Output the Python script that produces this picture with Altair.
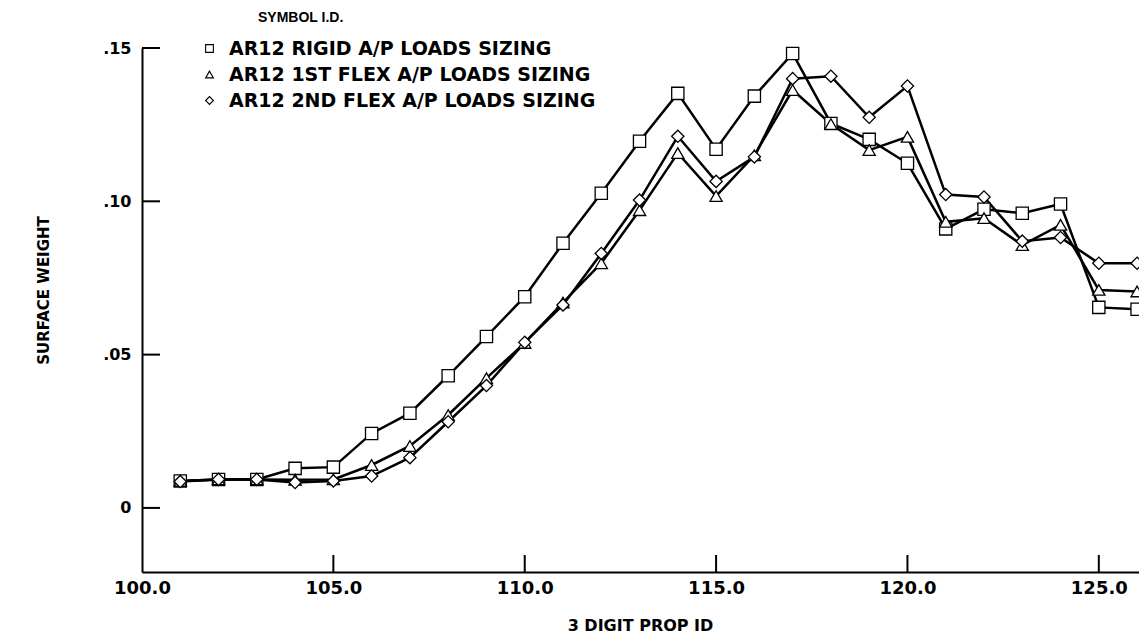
import altair as alt
import pandas as pd

# ---- data ----
prop_ids = list(range(101, 127))
rigid = [0.0088, 0.0093, 0.0093, 0.0129, 0.0133, 0.0243, 0.0309, 0.0431, 0.0559, 0.0689,
         0.0863, 0.1026, 0.1196, 0.1352, 0.1170, 0.1343, 0.1482, 0.1254, 0.1202, 0.1124,
         0.0910, 0.0974, 0.0961, 0.0991, 0.0654, 0.0648]
flex1 = [0.0088, 0.0093, 0.0093, 0.0092, 0.0093, 0.0140, 0.0202, 0.0303, 0.0423, 0.0538,
         0.0670, 0.0798, 0.0971, 0.1157, 0.1017, 0.1150, 0.1363, 0.1252, 0.1167, 0.1210,
         0.0933, 0.0945, 0.0857, 0.0923, 0.0711, 0.0706]
flex2 = [0.0086, 0.0093, 0.0093, 0.0083, 0.0088, 0.0104, 0.0164, 0.0281, 0.0399, 0.0540,
         0.0662, 0.0830, 0.1004, 0.1212, 0.1065, 0.1145, 0.1400, 0.1408, 0.1274, 0.1376,
         0.1022, 0.1014, 0.0870, 0.0882, 0.0798, 0.0798]
series_names = ["AR12 RIGID A/P LOADS SIZING",
                "AR12 1ST FLEX A/P LOADS SIZING",
                "AR12 2ND FLEX A/P LOADS SIZING"]
series_shapes = ["square", "triangle-up", "diamond"]
x_label_values = [100.0, 105.0, 110.0, 115.0, 120.0, 125.0]
x_inner_ticks = [105.0, 110.0, 115.0, 120.0, 125.0]
y_label_values = [0.0, 0.05, 0.10, 0.15]
legend_title = "SYMBOL I.D."
x_title = "3 DIGIT PROP ID"
y_title = "SURFACE WEIGHT"

rows = []
for name, vals in zip(series_names, [rigid, flex1, flex2]):
    for xv, yv in zip(prop_ids, vals):
        rows.append({"prop": xv, "weight": yv, "series": name})
df = pd.DataFrame(rows)
xt_df = pd.DataFrame({"prop": x_inner_ticks})
yt_df = pd.DataFrame({"weight": y_label_values})

W, H = 997, 524
X_MIN, X_MAX = 100.0, 126.05
Y_MIN, Y_MAX = -0.0209, 0.15
FONT = "DejaVu Sans"
FONT2 = "Liberation Sans"

xscale = alt.Scale(domain=[X_MIN, X_MAX], nice=False, zero=False)
yscale = alt.Scale(domain=[Y_MIN, Y_MAX], nice=False, zero=False)

xaxis = alt.Axis(values=x_label_values, format=".1f", ticks=False, grid=False,
                 domainColor="black", domainWidth=2, labelFlush=False,
                 labelFont=FONT, labelFontSize=18, labelFontWeight="bold",
                 labelColor="black", labelPadding=7,
                 title=x_title, titleFont=FONT, titleFontSize=16, titleFontWeight="bold",
                 titleColor="black", titleX=498, titleY=53, titleBaseline="middle",
                 titleAlign="center")
yaxis = alt.Axis(values=y_label_values,
                 labelExpr="datum.value == 0 ? '0' : slice(format(datum.value, '.2f'), 1)",
                 ticks=False, grid=False, domainColor="black", domainWidth=2,
                 labelFont=FONT, labelFontSize=16, labelFontWeight="bold", labelColor="black",
                 labelPadding=11, labelFlush=False,
                 title=y_title, titleFont=FONT, titleFontSize=15, titleFontWeight="bold",
                 titleColor="black", titleX=-99, titleY=242, titleAngle=270,
                 titleBaseline="middle", titleAlign="center")

X = alt.X("prop:Q", scale=xscale, axis=xaxis)
Y = alt.Y("weight:Q", scale=yscale, axis=yaxis)

x_tick_len = 18.0 / W * (X_MAX - X_MIN)
y_tick_len = 17.0 / H * (Y_MAX - Y_MIN)

xticks = alt.Chart(xt_df).mark_tick(color="black", orient="vertical", size=17,
                                    thickness=2, opacity=1).encode(
    x=X, y=alt.Y(datum=Y_MIN + y_tick_len / 2, scale=yscale, axis=yaxis))
yticks = alt.Chart(yt_df).mark_tick(color="black", orient="horizontal", size=18,
                                    thickness=2, opacity=1).encode(
    y=Y, x=alt.X(datum=X_MIN + x_tick_len / 2, scale=xscale, axis=xaxis))

lines = alt.Chart(df).mark_line(color="black", strokeWidth=2.5).encode(
    x=X, y=Y, detail="series:N")

points = alt.Chart(df).mark_point(size=150, strokeWidth=1.3).encode(
    x=X, y=Y,
    fill=alt.value("white"),
    stroke=alt.value("black"),
    fillOpacity=alt.value(1),
    opacity=alt.value(1),
    shape=alt.Shape("series:N",
                    scale=alt.Scale(domain=series_names, range=series_shapes),
                    legend=alt.Legend(title=None, orient="none", legendX=58, legendY=-9,
                                      labelFont=FONT, labelFontSize=19,
                                      labelFontWeight="bold", labelColor="black",
                                      symbolSize=60, symbolStrokeWidth=1.1,
                                      symbolOpacity=1,
                                      labelOffset=10, rowPadding=6, padding=0,
                                      labelLimit=700)),
)

chart = alt.layer(lines, points, xticks, yticks).properties(
    width=W, height=H,
    autosize=alt.AutoSizeParams(type="none"),
    padding={"left": 134, "top": 40, "right": 0, "bottom": 61},
    title=alt.TitleParams(legend_title, anchor="start", frame="group", dx=116,
                          offset=14, font=FONT2, fontSize=14, fontWeight="bold",
                          color="black"),
).configure(background="white").configure_view(stroke=None)

chart.save("out.html", embed_options={"renderer": "svg", "actions": False})
